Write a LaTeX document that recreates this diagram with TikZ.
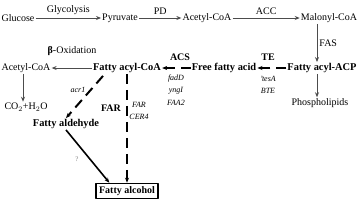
\documentclass[tikz,border=0pt]{standalone}
\usepackage{fontspec}
\setmainfont{Liberation Serif}
\usetikzlibrary{arrows.meta}

\begin{document}
\begin{tikzpicture}[x=1pt, y=-1pt, >={Stealth[length=5pt,width=4pt]}, line join=round,
    every node/.style={inner sep=1pt, font=\fontsize{10}{12}\selectfont},
    met/.style={},
    keymet/.style={font=\fontsize{10.4}{12}\selectfont\bfseries},
    enzyme/.style={font=\fontsize{10}{12}\selectfont\bfseries},
    gene/.style={font=\fontsize{8}{9}\selectfont\itshape},
    flow/.style={->, gray!60!black, line width=0.9pt},
    route/.style={->, line width=2pt, dash pattern=on 10pt off 6pt}]
  \useasboundingbox (0,0) rectangle (358,202);
  % upper pathway
  \node[met] (glc) at (18,18) {Glucose};
  \node[met] (pyr) at (120,18) {Pyruvate};
  \node[met] (acoa) at (207,18) {Acetyl-CoA};
  \node[met] (mal) at (329,18) {Malonyl-CoA};
  \draw[flow] (glc) -- node[above=2pt, text=black] {Glycolysis} (pyr);
  \draw[flow] (pyr) -- node[above=2pt, text=black] {PD} (acoa);
  \draw[flow] (acoa) -- node[above=2pt, text=black] {ACC} (mal);
  % fatty acid synthesis
  \node[keymet] (acp) at (322,68) {Fatty acyl-ACP};
  \node[met] (pl) at (320,103) {Phospholipids};
  \coordinate (fasA) at ([xshift=-5pt]mal.south -| acp.north);
  \draw[flow] (fasA) -- (fasA |- acp.north) node[midway, right=1pt, text=black] {FAS};
  \coordinate (plA) at ([xshift=-5pt]acp.south);
  \draw[flow] (plA) -- (plA |- pl.north);
  % fatty acid activation
  \node[keymet] (ffa) at (224,68) {Free fatty acid};
  \node[keymet] (facoa) at (127,68) {Fatty acyl-CoA};
  \draw[route] (acp) -- (ffa);
  \node[enzyme] (te) at (268,57) {TE};
  \node[gene] (tesa) at (268,79) {'tesA};
  \node[gene] (bte) at (268,91) {BTE};
  \draw[route] (ffa) -- (facoa);
  \node[enzyme] (acs) at (180,57) {ACS};
  \node[gene] (fadd) at (176,79) {fadD};
  \node[gene] (yngi) at (176,91) {yngI};
  \node[gene] (faa) at (176,103) {FAA2};
  % degradation
  \node[met] (acoa2) at (26,68) {Acetyl-CoA};
  \node[met] (co2) at (26,107) {CO$_2$+H$_2$O};
  \node[met] (box) at (72,51) {\textbf{β}-Oxidation};
  \draw[flow] (facoa) -- (acoa2);
  \coordinate (bA) at ([xshift=-3pt]acoa2.south);
  \draw[flow] (bA) -- (bA |- co2.north);
  % alcohol production
  \node[keymet] (ald) at (66,124) {Fatty aldehyde};
  \node[draw, line width=1.5pt, inner sep=3pt, font=\fontsize{10}{12}\selectfont\bfseries]
    (alc) at (127,191) {Fatty alcohol};
  \coordinate (dA) at ([xshift=-24pt, yshift=-2pt]facoa.south);
  \draw[route] (dA) -- (ald.north);
  \node[gene] (acr) at (78,90) {acr1};
  \draw[route] (facoa.south) -- (alc.north);
  \node[enzyme] (far) at (111,108) {FAR};
  \node[gene] (far2) at (139,105) {FAR};
  \node[gene] (cer) at (139,117) {CER4};
  \coordinate (alcIn) at ([xshift=14pt]alc.north west);
  \draw[->, line width=1.6pt] (ald.south) -- (alcIn);
  \node[font=\fontsize{7}{8}\selectfont, text=gray] (q) at (77,159) {?};
\end{tikzpicture}
\end{document}
